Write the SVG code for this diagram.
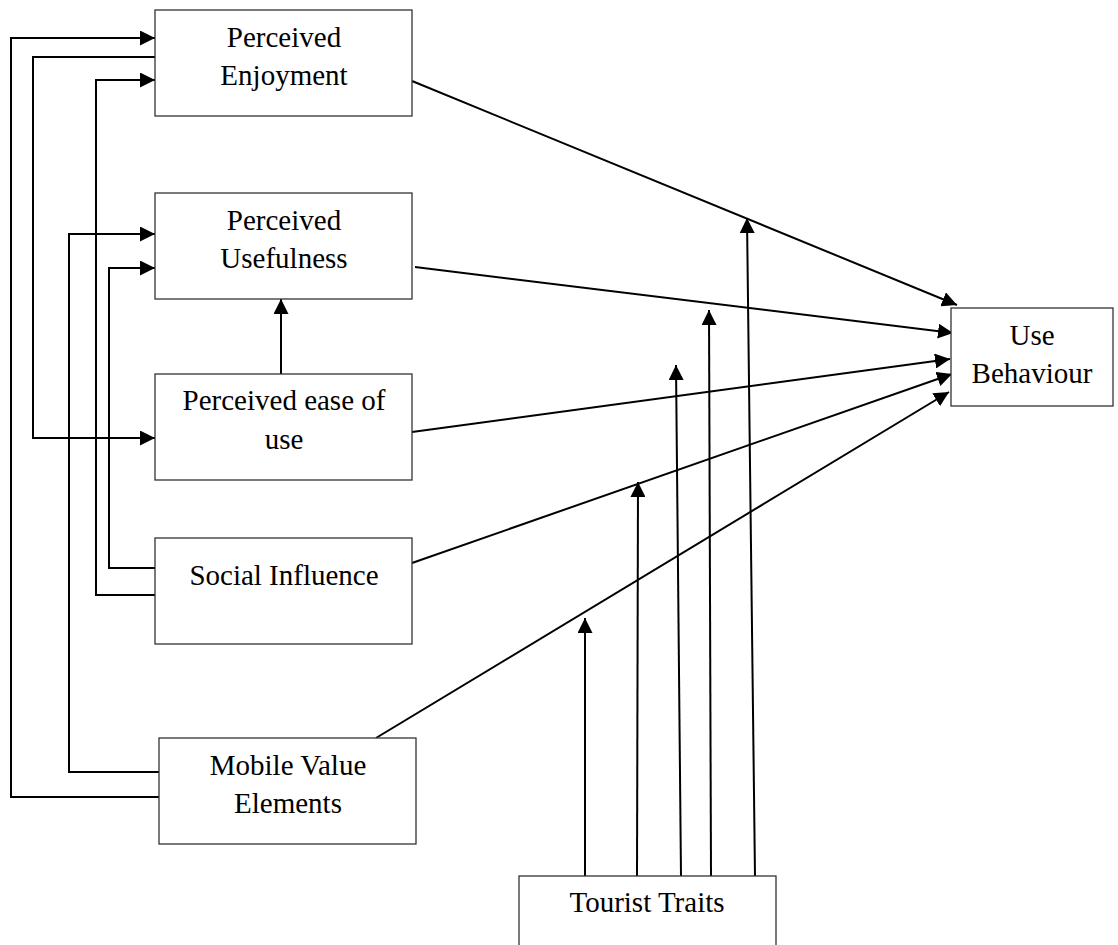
<svg xmlns="http://www.w3.org/2000/svg" width="1118" height="945" viewBox="0 0 1118 945">
  <style>
    .box { fill: #ffffff; stroke: #333333; stroke-width: 1.3; }
    .lbl { font-family: "Liberation Serif", "Times New Roman", serif; font-size: 29px; fill: #000000; text-anchor: middle; }
    .edge { fill: none; stroke: #000000; stroke-width: 2; }
    .arr { marker-end: url(#ah); }
  </style>
  <defs>
    <marker id="ah" markerUnits="userSpaceOnUse" markerWidth="16" markerHeight="15" refX="15" refY="7.5" orient="auto">
      <path d="M0,0 L15,7.5 L0,15 Z" fill="#000000"/>
    </marker>
  </defs>
  <rect width="1118" height="945" fill="#ffffff"/>

  <g id="connectors">
    <!-- left feedback routes -->
    <path class="edge arr" d="M159,797 H11 V38 H155"/>
    <path class="edge arr" d="M155,57 H33 V438 H155"/>
    <path class="edge arr" d="M155,595 H96 V80 H155"/>
    <path class="edge arr" d="M159,772 H69 V234 H155"/>
    <path class="edge arr" d="M155,568 H109 V268 H155"/>
    <path class="edge arr" d="M281,374 V299"/>
    <!-- to Use Behaviour -->
    <path class="edge arr" d="M412,81 L957,305"/>
    <path class="edge arr" d="M415,267 L953,333"/>
    <path class="edge arr" d="M412,432 L950,359"/>
    <path class="edge arr" d="M412,563 L952,374"/>
    <path class="edge arr" d="M376,738 L949,392"/>
    <!-- Tourist Traits moderators -->
    <path class="edge arr" d="M585,876 L585,618"/>
    <path class="edge arr" d="M637,876 L638,482"/>
    <path class="edge arr" d="M681,876 L676,365"/>
    <path class="edge arr" d="M711,876 L709,310"/>
    <path class="edge arr" d="M755,876 L747,218"/>
  </g>

  <g id="perceived-enjoyment">
    <rect class="box" x="155" y="10" width="257" height="106"/>
    <text class="lbl" x="284" y="47">Perceived</text>
    <text class="lbl" x="284" y="85">Enjoyment</text>
  </g>
  <g id="perceived-usefulness">
    <rect class="box" x="155" y="193" width="257" height="106"/>
    <text class="lbl" x="284" y="230">Perceived</text>
    <text class="lbl" x="284" y="268">Usefulness</text>
  </g>
  <g id="perceived-ease-of-use">
    <rect class="box" x="155" y="374" width="257" height="106"/>
    <text class="lbl" x="284" y="410">Perceived ease of</text>
    <text class="lbl" x="284" y="449">use</text>
  </g>
  <g id="social-influence">
    <rect class="box" x="155" y="538" width="257" height="106"/>
    <text class="lbl" x="284" y="585">Social Influence</text>
  </g>
  <g id="mobile-value-elements">
    <rect class="box" x="159" y="738" width="257" height="106"/>
    <text class="lbl" x="288" y="775">Mobile Value</text>
    <text class="lbl" x="288" y="813">Elements</text>
  </g>
  <g id="tourist-traits">
    <rect class="box" x="519" y="876" width="257" height="106"/>
    <text class="lbl" x="647" y="912">Tourist Traits</text>
  </g>
  <g id="use-behaviour">
    <rect class="box" x="951" y="308" width="162" height="98"/>
    <text class="lbl" x="1032" y="345">Use</text>
    <text class="lbl" x="1032" y="383">Behaviour</text>
  </g>
</svg>
